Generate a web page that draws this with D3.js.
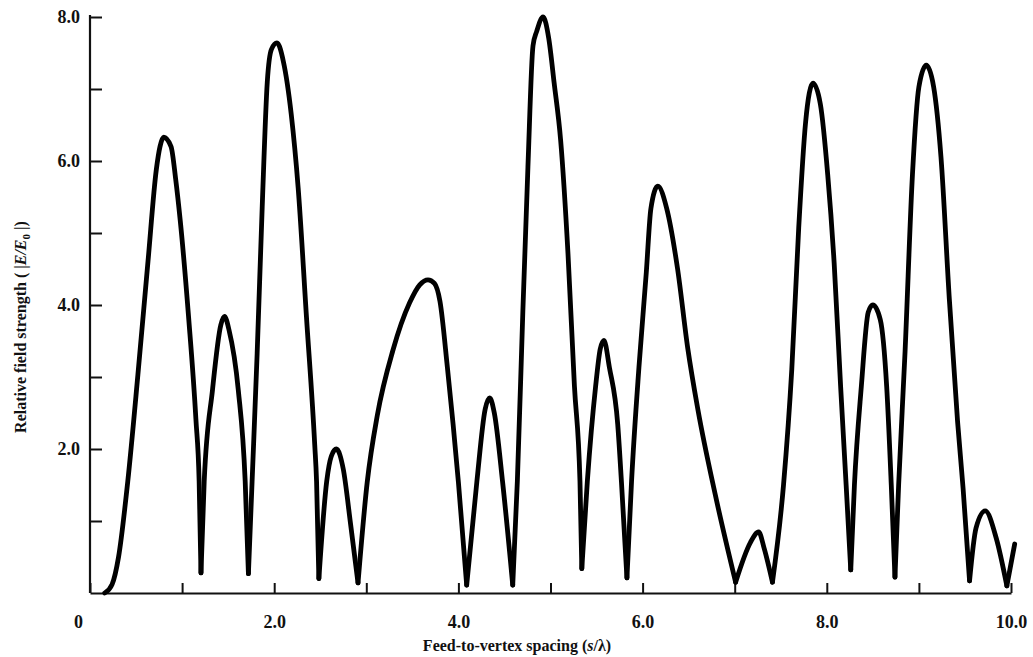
<!DOCTYPE html>
<html>
<head>
<meta charset="utf-8">
<script src="https://cdn.jsdelivr.net/npm/d3@7"></script>
<style>
  html, body { margin: 0; padding: 0; background: #fff; }
  svg { display: block; }
  text { font-family: "Liberation Serif", "DejaVu Serif", serif; font-weight: bold; fill: #111; }
</style>
</head>
<body>
<svg id="chart" width="1033" height="657"></svg>
<script>
// ---- data ----
const spacing = [
  0.16, 0.24, 0.31, 0.41, 0.52, 0.63, 0.72, 0.76, 0.80, 0.88, 0.93, 0.98, 1.07, 1.15, 1.185, 1.205,
  1.24, 1.33, 1.42, 1.46, 1.51, 1.61, 1.685, 1.72,
  1.76, 1.815, 1.87, 1.925, 1.97, 2.03, 2.10, 2.185, 2.26, 2.35, 2.44, 2.46, 2.485,
  2.57, 2.62, 2.675, 2.75, 2.83, 2.91,
  3.01, 3.12, 3.29, 3.47, 3.58, 3.67, 3.74, 3.80, 3.88, 4.00, 4.09,
  4.20, 4.29, 4.34, 4.39, 4.48, 4.59,
  4.64, 4.70, 4.755, 4.81, 4.85, 4.92, 4.98, 5.04, 5.11, 5.19, 5.26, 5.32, 5.34,
  5.40, 5.49, 5.54, 5.58, 5.64, 5.73, 5.77, 5.83,
  5.88, 5.96, 6.04, 6.09, 6.165, 6.26, 6.38, 6.49, 6.60, 6.79, 7.01,
  7.17, 7.26, 7.32, 7.41,
  7.53, 7.62, 7.695, 7.77, 7.85, 7.93, 8.01, 8.08, 8.15, 8.21, 8.26,
  8.30, 8.375, 8.45, 8.50, 8.58, 8.65, 8.70, 8.74,
  8.78, 8.85, 8.93, 9.00, 9.08, 9.16, 9.24, 9.33, 9.42, 9.48, 9.55,
  9.62, 9.72, 9.84, 9.955, 10.04
];
const fieldStrength = [
  0.00, 0.12, 0.50, 1.55, 3.03, 4.61, 5.88, 6.20, 6.33, 6.20, 5.75, 5.17, 3.84, 2.41, 1.55, 0.28,
  1.55, 2.82, 3.72, 3.84, 3.65, 2.82, 1.55, 0.27,
  1.55, 3.33, 5.37, 7.10, 7.55, 7.64, 7.38, 6.65, 5.63, 3.84, 2.06, 1.55, 0.20,
  1.55, 1.90, 2.00, 1.72, 0.95, 0.14,
  1.54, 2.47, 3.375, 4.03, 4.28, 4.35, 4.30, 4.05, 3.14, 1.54, 0.11,
  1.54, 2.55, 2.71, 2.50, 1.54, 0.11,
  1.55, 3.92, 5.92, 7.60, 7.80, 8.00, 7.71, 7.08, 6.29, 4.71, 2.87, 1.55, 0.34,
  1.55, 2.87, 3.39, 3.51, 3.13, 2.34, 1.55, 0.21,
  1.55, 3.13, 4.45, 5.34, 5.65, 5.35, 4.50, 3.40, 2.55, 1.36, 0.15,
  0.70, 0.85, 0.62, 0.15,
  1.50, 3.11, 5.07, 6.54, 7.08, 6.79, 5.81, 4.58, 2.87, 1.50, 0.32,
  1.50, 2.87, 3.90, 4.00, 3.80, 2.87, 1.50, 0.22,
  1.50, 3.36, 5.81, 7.03, 7.33, 7.03, 6.05, 4.09, 2.38, 1.45, 0.17,
  0.90, 1.14, 0.76, 0.10, 0.68
];
const xTicks = [0, 1, 2, 3, 4, 5, 6, 7, 8, 9, 10];
const xTickLabels = ["0", "", "2.0", "", "4.0", "", "6.0", "", "8.0", "", "10.0"];
const yTicks = [1, 2, 3, 4, 5, 6, 7, 8];
const yTickLabels = ["", "2.0", "", "4.0", "", "6.0", "", "8.0"];
const xTitle = "Feed-to-vertex spacing";
const yTitle = "Relative field strength";

// ---- layout ----
const svg = d3.select("#chart");
svg.append("rect").attr("width", 1033).attr("height", 657).attr("fill", "#fff");

const x = d3.scaleLinear().domain([0, 10]).range([90, 1011]);
const y = d3.scaleLinear().domain([0, 8]).range([593, 17]);

// x axis
const gx = svg.append("g").attr("transform", `translate(0,${y(0)})`)
  .call(d3.axisBottom(x).tickValues(xTicks)
    .tickFormat((d, i) => xTickLabels[i])
    .tickSizeInner(-10).tickSizeOuter(0).tickPadding(22));
gx.select(".domain").attr("stroke", "#111").attr("stroke-width", 2.2);
gx.selectAll(".tick line").attr("stroke", "#111").attr("stroke-width", 2);
gx.selectAll(".tick text").attr("font-size", 18).attr("fill", "#111")
  .attr("font-family", "Liberation Serif, serif").attr("font-weight", "bold");
gx.selectAll(".tick").filter(d => d === 0).select("text").attr("x", -12);

// y axis
const gy = svg.append("g").attr("transform", `translate(${x(0)},0)`)
  .call(d3.axisLeft(y).tickValues(yTicks)
    .tickFormat((d, i) => yTickLabels[i])
    .tickSizeInner(-12).tickSizeOuter(0).tickPadding(10));
gy.select(".domain").attr("stroke", "#111").attr("stroke-width", 2.2)
  .attr("d", `M0,${y(0)}V${y(8) - 2}`);
gy.selectAll(".tick line").attr("stroke", "#111").attr("stroke-width", 2);
gy.selectAll(".tick text").attr("font-size", 18).attr("fill", "#111")
  .attr("font-family", "Liberation Serif, serif").attr("font-weight", "bold");

// curve: split into lobes at the nulls so the minima stay sharp cusps
const pts = spacing.map((s, i) => [s, fieldStrength[i]]);
const cuts = [0];
for (let i = 1; i < pts.length - 1; i++) {
  if (pts[i][1] < pts[i - 1][1] && pts[i][1] < pts[i + 1][1]) cuts.push(i);
}
cuts.push(pts.length - 1);
const lobes = [];
for (let k = 0; k < cuts.length - 1; k++) lobes.push(pts.slice(cuts[k], cuts[k + 1] + 1));

const line = d3.line().x(d => x(d[0])).y(d => y(d[1])).curve(d3.curveMonotoneX);
svg.append("g").selectAll("path").data(lobes).join("path")
  .attr("d", line)
  .attr("fill", "none").attr("stroke", "#000")
  .attr("stroke-width", 4.8).attr("stroke-linejoin", "round").attr("stroke-linecap", "round");

// x title
const xt = svg.append("text").attr("x", 517).attr("y", 651)
  .attr("text-anchor", "middle").attr("font-size", 16);
xt.append("tspan").text(xTitle + " (");
xt.append("tspan").attr("font-style", "italic").text("s");
xt.append("tspan").text("/λ)");

// y title
const yt = svg.append("text")
  .attr("transform", "translate(26,327) rotate(-90)")
  .attr("text-anchor", "middle").attr("font-size", 16);
yt.append("tspan").text(yTitle + " ( |");
yt.append("tspan").attr("font-style", "italic").text("E/E");
yt.append("tspan").attr("font-size", 11).attr("dy", 4).text("0");
yt.append("tspan").attr("dy", -4).text(" |)");
</script>
</body>
</html>
